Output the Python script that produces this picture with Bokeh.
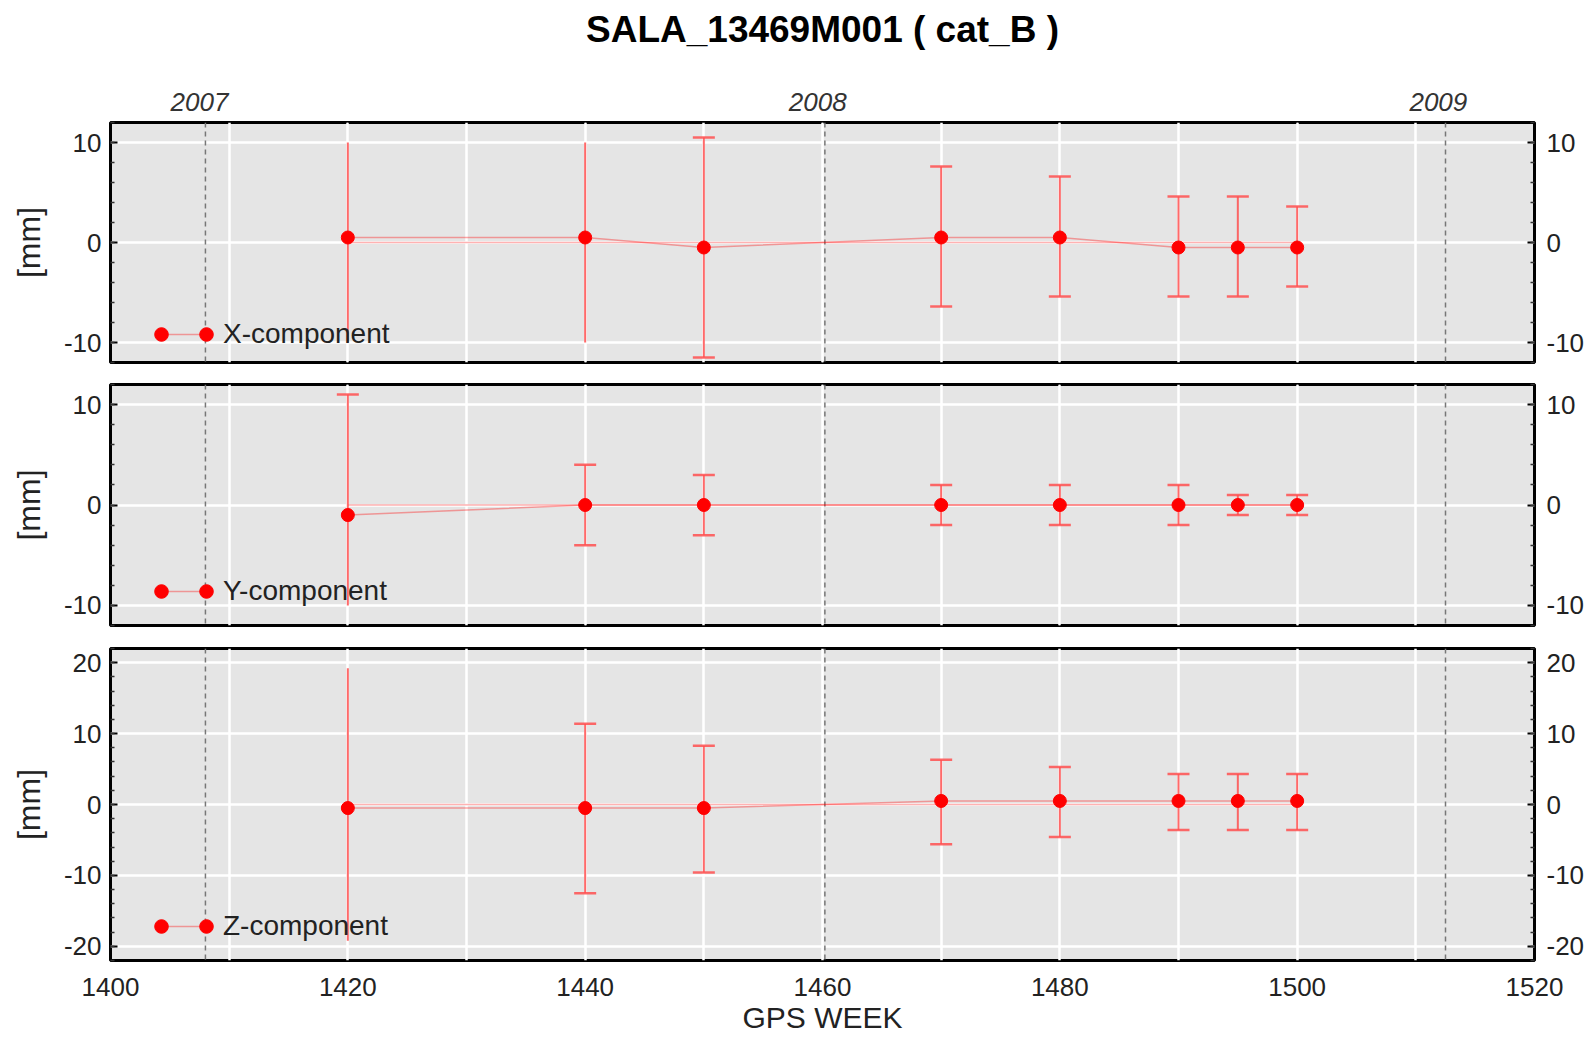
from bokeh.plotting import figure
from bokeh.models import (Range1d, LinearAxis, SingleIntervalTicker, FixedTicker,
                          Grid, Span, Legend, LegendItem, ColumnDataSource, Label)
from bokeh.layouts import column
from bokeh.embed import file_html
from bokeh.resources import INLINE

# ---------------- data ----------------
title_text = "SALA_13469M001 ( cat_B )"
weeks = [1420, 1440, 1450, 1470, 1480, 1490, 1495, 1500]

x_val = [0.5, 0.5, -0.5, 0.5, 0.5, -0.5, -0.5, -0.5]
x_hi = [10.0, 10.0, 10.5, 7.6, 6.6, 4.6, 4.6, 3.6]
x_lo = [-10.0, -10.0, -11.5, -6.4, -5.4, -5.4, -5.4, -4.4]
x_cap_hi = [False, False, True, True, True, True, True, True]
x_cap_lo = [False, False, True, True, True, True, True, True]

y_val = [-1.0, 0.0, 0.0, 0.0, 0.0, 0.0, 0.0, 0.0]
y_hi = [11.0, 4.0, 3.0, 2.0, 2.0, 2.0, 1.0, 1.0]
y_lo = [-10.0, -4.0, -3.0, -2.0, -2.0, -2.0, -1.0, -1.0]
y_cap_hi = [True, True, True, True, True, True, True, True]
y_cap_lo = [False, True, True, True, True, True, True, True]

z_val = [-0.5, -0.5, -0.5, 0.5, 0.5, 0.5, 0.5, 0.5]
z_hi = [19.2, 11.4, 8.3, 6.3, 5.3, 4.3, 4.3, 4.3]
z_lo = [-19.2, -12.5, -9.6, -5.6, -4.6, -3.6, -3.6, -3.6]
z_cap_hi = [False, True, True, True, True, True, True, True]
z_cap_lo = [False, True, True, True, True, True, True, True]

baseline = [0, 0, 0, 0, 0, 0, 0, 0]

year_weeks = [1408.0, 1460.2, 1512.5]        # dashed year boundaries
year_label_weeks = [1407.5, 1459.6, 1511.9]  # where the year texts sit
year_labels = ["2007", "2008", "2009"]

x_start, x_end = 1400, 1520
panels = [
    ("X-component", x_val, x_hi, x_lo, x_cap_hi, x_cap_lo, (-12, 12)),
    ("Y-component", y_val, y_hi, y_lo, y_cap_hi, y_cap_lo, (-12, 12)),
    ("Z-component", z_val, z_hi, z_lo, z_cap_hi, z_cap_lo, (-22, 22)),
]

FONT = "Liberation Sans"
RED = "#ff0000"
ERR = "#ff5050"
TXT = "#222222"

W = 1594
BL, BR = 110, 60
TITLE_H = 57
x_range = Range1d(x_start, x_end)


def style_y_axis(ax, standoff):
    ax.ticker = SingleIntervalTicker(interval=10, num_minor_ticks=5)
    ax.major_label_overrides = {v: str(v) for v in range(-30, 31, 10)}
    ax.axis_line_color = None
    ax.major_tick_in = 7
    ax.major_tick_out = 0
    ax.minor_tick_in = 4
    ax.minor_tick_out = 0
    ax.major_tick_line_color = "black"
    ax.major_tick_line_width = 2
    ax.minor_tick_line_color = "#333333"
    ax.minor_tick_line_width = 1.5
    ax.major_label_text_font = FONT
    ax.major_label_text_font_size = "26px"
    ax.major_label_text_color = TXT
    ax.major_label_standoff = standoff


# ---- title strip ----
tp = figure(width=W, height=TITLE_H, x_range=Range1d(0, 1), y_range=Range1d(0, 1),
            x_axis_location=None, y_axis_location=None,
            output_backend="svg", toolbar_location=None,
            min_border_left=BL, min_border_right=BR, min_border_top=0, min_border_bottom=0)
tp.outline_line_color = None
tp.background_fill_color = "white"
tp.border_fill_color = "white"
tp.grid.visible = False
tp.add_layout(Label(x=0.5, y=0.5, text=title_text, text_align="center", text_baseline="middle",
                    text_font=FONT, text_font_size="37px", text_font_style="bold",
                    text_color="black"))

figs = [tp]
layout_spec = [
    # min_border_top, frame height, min_border_bottom, legend y offset
    (122 - TITLE_H, 240, 10, 11),
    (12, 241, 11, 17),
    (12, 312, 77, 17),
]

for i, (name, vals, hi, lo, cap_hi, cap_lo, yr) in enumerate(panels):
    top_b, fh, bot_b, leg_y = layout_spec[i]
    last = (i == len(panels) - 1)
    p = figure(width=W, height=top_b + fh + bot_b,
               x_range=x_range, y_range=Range1d(*yr),
               x_axis_location="below" if last else None,
               y_axis_location="left",
               output_backend="svg", toolbar_location=None,
               min_border_left=BL, min_border_right=BR,
               min_border_top=top_b, min_border_bottom=bot_b)
    p.background_fill_color = "#e5e5e5"
    p.border_fill_color = "white"
    p.outline_line_color = "black"
    p.outline_line_width = 3

    # left axis
    lax = p.yaxis[0]
    style_y_axis(lax, 9)
    lax.axis_label = "[mm]"
    lax.axis_label_text_font = FONT
    lax.axis_label_text_font_style = "normal"
    lax.axis_label_text_font_size = "32px"
    lax.axis_label_text_color = TXT
    lax.axis_label_standoff = 14
    # right axis
    rax = LinearAxis()
    style_y_axis(rax, 12)
    p.add_layout(rax, "right")

    # grids
    p.ygrid.grid_line_color = "white"
    p.ygrid.grid_line_width = 2.5
    p.ygrid.ticker = lax.ticker
    if last:
        p.xgrid.ticker = SingleIntervalTicker(interval=10)
        p.xgrid.grid_line_color = "white"
        p.xgrid.grid_line_width = 2.5
    else:
        g = Grid(dimension=0, ticker=SingleIntervalTicker(interval=10),
                 grid_line_color="white", grid_line_width=2.5)
        p.add_layout(g)

    # year boundaries
    for w in year_weeks:
        p.add_layout(Span(location=w, dimension="height", line_color="#777777",
                          line_width=1.5, line_dash="5 4", level="underlay"))

    # bottom axis
    if last:
        bx = p.xaxis[0]
        bx.ticker = SingleIntervalTicker(interval=20)
        bx.axis_line_color = None
        bx.major_tick_in = 0
        bx.major_tick_out = 0
        bx.minor_tick_in = 0
        bx.minor_tick_out = 0
        bx.major_label_text_font = FONT
        bx.major_label_text_font_size = "26px"
        bx.major_label_text_color = TXT
        bx.major_label_standoff = 17
        bx.axis_label = "GPS WEEK"
        bx.axis_label_text_font = FONT
        bx.axis_label_text_font_style = "normal"
        bx.axis_label_text_font_size = "30px"
        bx.axis_label_text_color = TXT
        bx.axis_label_standoff = 2

    # top axis with year labels on the first panel
    if i == 0:
        tax = LinearAxis(ticker=FixedTicker(ticks=year_label_weeks),
                         major_label_overrides={w: l for w, l in zip(year_label_weeks, year_labels)})
        tax.axis_line_color = None
        tax.major_tick_in = 0
        tax.major_tick_out = 0
        tax.minor_tick_in = 0
        tax.minor_tick_out = 0
        tax.major_label_text_font = FONT
        tax.major_label_text_font_style = "italic"
        tax.major_label_text_font_size = "26px"
        tax.major_label_text_color = "#333333"
        tax.major_label_standoff = 12
        p.add_layout(tax, "above")

    # data
    src = ColumnDataSource(dict(w=weeks, v=vals, hi=hi, lo=lo, base=baseline))
    p.line("w", "base", source=src, line_color=RED, line_alpha=0.3, line_width=1.5)
    line_r = p.line("w", "v", source=src, line_color=RED, line_alpha=0.35, line_width=1.5)
    p.segment(x0="w", y0="lo", x1="w", y1="hi", source=src,
              line_color=ERR, line_alpha=0.85, line_width=2)
    cap_src = ColumnDataSource(dict(
        w=[w for w, c in zip(weeks, cap_hi) if c] + [w for w, c in zip(weeks, cap_lo) if c],
        y=[h for h, c in zip(hi, cap_hi) if c] + [l for l, c in zip(lo, cap_lo) if c]))
    p.scatter("w", "y", source=cap_src, marker="dash", size=22,
              line_color=ERR, line_alpha=0.85, line_width=2.5)
    pts_r = p.scatter("w", "v", source=src, marker="circle", size=13,
                      fill_color=RED, line_color=RED)

    # legend: a light line with a dot at each end, then the label
    common = dict(orientation="vertical", background_fill_alpha=0, border_line_color=None,
                  padding=0, margin=0, glyph_height=34, label_height=34,
                  label_text_font=FONT, label_text_font_size="28px", label_text_color=TXT)
    leg_line = Legend(items=[LegendItem(label=name, renderers=[line_r])],
                      location=(51, leg_y), glyph_width=45, label_standoff=17, **common)
    leg_dot1 = Legend(items=[LegendItem(label=" ", renderers=[pts_r])],
                      location=(34, leg_y), glyph_width=34, label_standoff=0, **common)
    leg_dot2 = Legend(items=[LegendItem(label=" ", renderers=[pts_r])],
                      location=(79, leg_y), glyph_width=34, label_standoff=0, **common)
    p.add_layout(leg_line, "center")
    p.add_layout(leg_dot1, "center")
    p.add_layout(leg_dot2, "center")
    figs.append(p)

layout = column(*figs, spacing=0)
open("out.html", "w").write(file_html(layout, INLINE))
